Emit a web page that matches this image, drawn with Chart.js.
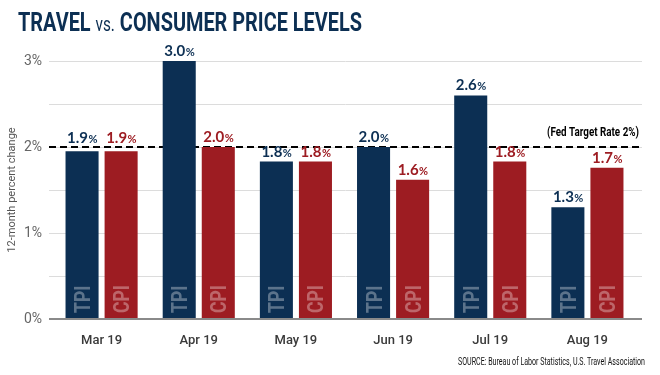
<!DOCTYPE html>
<html><head><meta charset="utf-8">
<script src="https://cdn.jsdelivr.net/npm/chart.js@4/dist/chart.umd.min.js"></script>
<style>
html,body{margin:0;padding:0;background:#fff;}
#wrap{position:relative;width:660px;height:375px;overflow:hidden;background:#fff;}
#title{position:absolute;left:18px;top:7px;font-family:Roboto,"Liberation Sans",sans-serif;font-weight:bold;font-size:26px;line-height:30px;color:#0c2f53;white-space:nowrap;transform-origin:0 0;}
#title .vs{font-weight:normal;font-size:20px;}
#source{position:absolute;left:458px;top:355px;font-family:Roboto,"Liberation Sans",sans-serif;font-size:10.5px;line-height:14px;color:#111;white-space:nowrap;transform-origin:0 0;}
canvas{position:absolute;left:0;top:0;}
</style></head>
<body>
<div id="wrap">
<canvas id="c" width="660" height="375"></canvas>
<div id="title">TRAVEL <span class="vs">vs.</span> CONSUMER PRICE LEVELS</div>
<div id="source">SOURCE: Bureau of Labor Statistics, U.S. Travel Association</div>
</div>
<script>
const categories = ['Mar 19','Apr 19','May 19','Jun 19','Jul 19','Aug 19'];
const seriesNames = ['TPI','CPI'];
const tpiValues = [1.95, 3.0, 1.83, 2.0, 2.6, 1.3];
const cpiValues = [1.95, 2.0, 1.83, 1.62, 1.83, 1.76];
const tpiLabels = ['1.9','3.0','1.8','2.0','2.6','1.3'];
const cpiLabels = ['1.9','2.0','1.8','1.6','1.8','1.7'];
const fedTarget = 2;
const fedLabel = '(Fed Target Rate 2%)';
const yTitle = '12-month percent change';

function fitWidth(id, w) {
  const el = document.getElementById(id);
  const cur = el.getBoundingClientRect().width;
  el.style.transform = 'scaleX(' + (w / cur) + ')';
}
fitWidth('title', 344);
fitWidth('source', 187);

const NAVY = '#0c2f53';
const RED = '#9d1c22';
const SANS = 'Roboto, "Liberation Sans", sans-serif';
const LABELFONT = 'Lato, "Open Sans", sans-serif';

const decor = {
  id: 'decor',
  beforeDatasetsDraw(chart) {
    const {ctx, chartArea:a, scales:{y}} = chart;
    ctx.save();
    ctx.strokeStyle = '#dcdcdc';
    ctx.lineWidth = 1;
    y.ticks.forEach(t => {
      if (t.value === 0) return;
      const py = Math.round(y.getPixelForValue(t.value)) + 0.5;
      ctx.beginPath(); ctx.moveTo(a.left - 4, py); ctx.lineTo(a.right + 6, py); ctx.stroke();
    });
    const fy = y.getPixelForValue(fedTarget);
    ctx.strokeStyle = '#000';
    ctx.lineWidth = 2;
    ctx.setLineDash([7,4]);
    ctx.beginPath(); ctx.moveTo(a.left - 4, fy); ctx.lineTo(a.right + 6, fy); ctx.stroke();
    ctx.setLineDash([]);
    ctx.restore();
  },
  afterDatasetsDraw(chart) {
    const {ctx, chartArea:a, scales:{y}} = chart;
    ctx.save();
    const by = y.getPixelForValue(0);
    const fy = y.getPixelForValue(fedTarget);
    ctx.strokeStyle = '#8a8a8a';
    ctx.lineWidth = 2;
    ctx.beginPath(); ctx.moveTo(a.left - 4, by); ctx.lineTo(a.right + 6, by); ctx.stroke();

    const labelSets = [tpiLabels, cpiLabels];
    const colors = [NAVY, RED];
    chart.data.datasets.forEach((ds, di) => {
      const meta = chart.getDatasetMeta(di);
      meta.data.forEach((bar, i) => {
        ctx.save();
        ctx.translate(bar.x + 8, bar.base - 6);
        ctx.rotate(-Math.PI/2);
        ctx.scale(0.8, 1);
        ctx.font = 'bold 22px ' + SANS;
        ctx.fillStyle = 'rgba(255,255,255,0.33)';
        ctx.textAlign = 'left';
        ctx.textBaseline = 'alphabetic';
        ctx.fillText(seriesNames[di], 0, 0);
        ctx.restore();

        const num = labelSets[di][i];
        ctx.font = 'bold 15px ' + LABELFONT;
        const w1 = ctx.measureText(num).width;
        ctx.font = 'bold 11px ' + LABELFONT;
        const w2 = ctx.measureText('%').width;
        const x0 = bar.x - (w1 + w2) / 2;
        let ly = bar.y - 5;
        // lift labels of bars just under the target line above it
        if (bar.y > fy && bar.y - fy < 8) ly = fy - 4;
        ctx.fillStyle = colors[di];
        ctx.textAlign = 'left';
        ctx.textBaseline = 'alphabetic';
        ctx.font = 'bold 15px ' + LABELFONT;
        ctx.fillText(num, x0, ly);
        ctx.font = 'bold 11px ' + LABELFONT;
        ctx.fillText('%', x0 + w1 + 0.5, ly);
      });
    });
    ctx.save();
    ctx.translate(a.right + 3, fy - 14);
    ctx.scale(0.82, 1);
    ctx.font = 'bold 12px ' + SANS;
    ctx.fillStyle = '#000';
    ctx.textAlign = 'right';
    ctx.textBaseline = 'middle';
    ctx.fillText(fedLabel, 0, 0);
    ctx.restore();
    ctx.restore();
  }
};

new Chart(document.getElementById('c'), {
  type: 'bar',
  data: {
    labels: categories,
    datasets: [
      {label: seriesNames[0], data: tpiValues, backgroundColor: NAVY},
      {label: seriesNames[1], data: cpiValues, backgroundColor: RED}
    ]
  },
  options: {
    responsive: false,
    animation: false,
    events: [],
    layout: {padding: {left: 0, top: 61, right: 24, bottom: 0}},
    datasets: {bar: {categoryPercentage: 0.804, barPercentage: 0.846}},
    plugins: {legend: {display: false}, tooltip: {enabled: false}},
    scales: {
      x: {
        grid: {display: false, drawTicks: false},
        border: {display: false},
        ticks: {color: '#3a3a3a', padding: 14, font: {family: SANS, size: 13, weight: '500'}},
        afterFit(s) { s.height = 56; }
      },
      y: {
        min: 0, max: 3,
        grid: {display: false, drawTicks: false},
        border: {display: false},
        ticks: {
          stepSize: 0.5,
          padding: 11,
          color: '#666',
          font: {family: SANS, size: 14},
          callback: v => Number.isInteger(v) ? v + '%' : ''
        },
        title: {display: true, text: yTitle, color: '#555', font: {family: SANS, size: 11}, padding: {top: 6, bottom: 0}},
        afterFit(s) { s.width = 53; }
      }
    }
  },
  plugins: [decor]
});
</script>
</body></html>
